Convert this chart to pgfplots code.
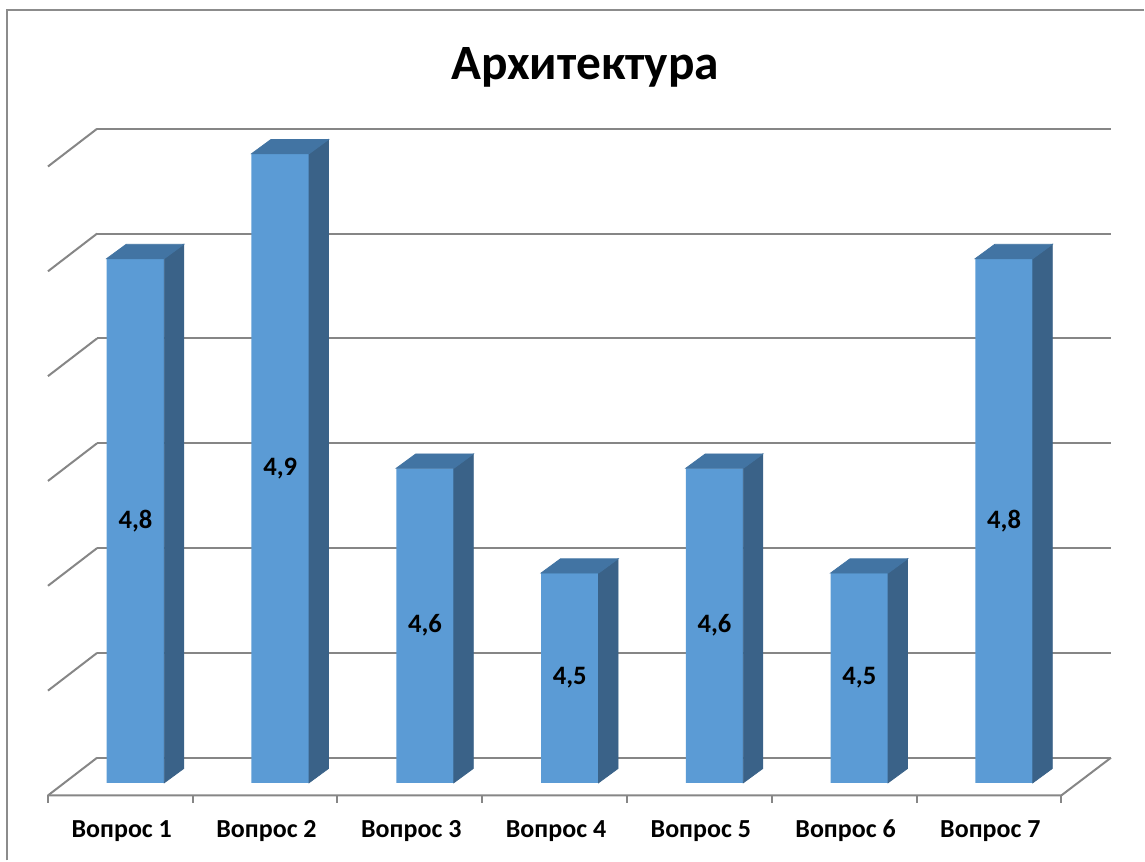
\documentclass[border=0pt]{standalone}
\usepackage{fontspec}
\setmainfont{Carlito}
\usepackage{pgfplots}
\pgfplotsset{compat=1.18}
\usepackage{pgfplotstable}
\definecolor{barfront}{RGB}{91,155,213}
\definecolor{bartop}{RGB}{66,116,163}
\definecolor{barside}{RGB}{58,98,136}
\definecolor{gridgray}{RGB}{134,134,134}
\definecolor{bordergray}{RGB}{140,140,140}

\pgfplotstableread{
x v
0 4.8
1 4.9
2 4.6
3 4.5
4 4.6
5 4.5
6 4.8
}\data

\begin{document}
\begin{tikzpicture}
\begin{axis}[
  x=72.43pt, y=524.5pt,
  xmin=-0.2657, xmax=6.738, ymin=4.3, ymax=5.0,
  enlargelimits=false,
  axis line style={draw=none},
  major tick length=0pt,
  ytick={4.32383,4.42383,4.52383,4.62383,4.72383,4.82383,4.92383},
  yticklabels={},
  ymajorgrids,
  major grid style={gridgray, line width=1pt},
  xtick={-0.095,0.905,1.905,2.905,3.905,4.905,5.905},
  xticklabels={Вопрос 1,Вопрос 2,Вопрос 3,Вопрос 4,Вопрос 5,Вопрос 6,Вопрос 7},
  xticklabel style={anchor=base, yshift=-27.2pt, font=\bfseries\fontsize{13}{15}\selectfont},
  title={Архитектура},
  title style={at={(axis cs:3.1058,4.9752)}, anchor=base, yshift=-8.5pt, font=\bfseries\fontsize{24.7}{29}\selectfont},
  after end axis/.code={
    \draw[gridgray, line width=1pt] (axis cs:-0.6047,4.28789) -- (axis cs:6.3953,4.28789) -- (axis cs:6.738,4.32383);
    \foreach \k in {0,1,2,3,4,5,6,7} {
      \pgfmathsetmacro{\tx}{-0.6047+\k}
      \draw[gridgray, line width=1pt] (axis cs:\tx,4.28789) -- (axis cs:\tx,4.2803);
    }
    \foreach \L in {4.3,4.4,4.5,4.6,4.7,4.8,4.9} {
      \pgfmathsetmacro{\ya}{\L-0.01211}
      \pgfmathsetmacro{\yb}{\L+0.02383}
      \draw[gridgray, line width=1pt] (axis cs:-0.6047,\ya) -- (axis cs:-0.2657,\yb);
    }
    \draw[bordergray, line width=0.8pt] (axis cs:-0.8877,4.22593) -- (axis cs:-0.8877,5.03718) -- (axis cs:6.9681,5.03718);
    \path (axis cs:-0.9361,4.22593) rectangle (axis cs:6.9681,5.04671);
  },
]
\addplot[ybar, bar width=28.8pt, fill=barfront, draw=none] table[x=x, y=v] {\data};

\addplot[scatter, only marks, mark=*, mark size=0.01pt, color=barfront,
  visualization depends on={\thisrow{v} \as \val},
  scatter/@pre marker code/.code={%
    \scope
    \pgfmathsetmacro{\hh}{(\val-4.3)*524.5}%
    \pgfmathsetmacro{\hb}{7.15-\hh}%
    \pgfmathsetmacro{\hn}{-\hh}%
    \fill[barside] (14.4pt,0pt) -- (24.15pt,7.15pt) -- (24.15pt,\hb pt) -- (14.4pt,\hn pt) -- cycle;
    \fill[bartop] (-14.4pt,0pt) -- (-4.65pt,7.15pt) -- (24.15pt,7.15pt) -- (14.4pt,0pt) -- cycle;
    \pgfsetstrokeopacity{0}\pgfsetfillopacity{0}%
  },
  scatter/@post marker code/.code={\endscope},
] table[x=x, y=v] {\data};

\addplot[draw=none, mark=none, point meta=explicit,
  nodes near coords={\pgfmathprintnumber[fixed,fixed zerofill,precision=1,use comma,assume math mode=true]{\pgfplotspointmeta}},
  every node near coord/.append style={anchor=center, text=black, font=\bfseries\fontsize{13.3}{15}\selectfont},
] table[x=x, y expr={(\thisrow{v}+4.3)/2}, meta=v] {\data};
\end{axis}
\end{tikzpicture}
\end{document}
